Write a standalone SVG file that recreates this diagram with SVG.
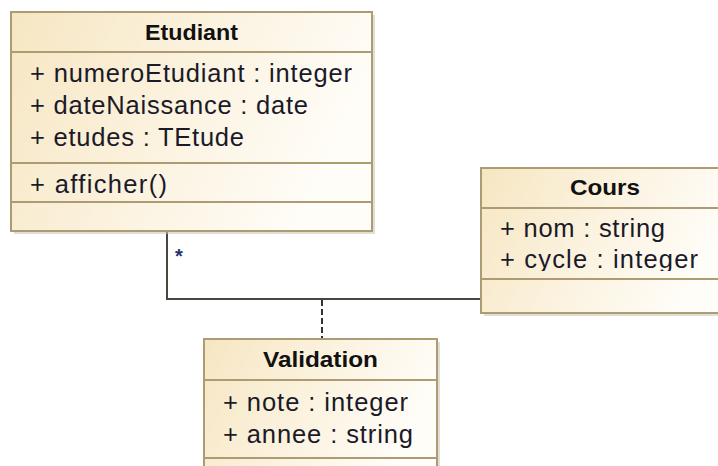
<svg xmlns="http://www.w3.org/2000/svg" width="718" height="466" viewBox="0 0 718 466">
  <defs>
    <linearGradient id="classFill" x1="0" y1="0" x2="1" y2="0.3">
      <stop offset="0" stop-color="#f6e6c2"/>
      <stop offset="0.6" stop-color="#fcf4e3"/>
      <stop offset="1" stop-color="#fffdf8"/>
    </linearGradient>
    <clipPath id="coursAttrClip">
      <rect x="481" y="208" width="250" height="63"/>
    </clipPath>
  </defs>
  <style>
    .shadow { fill: #c8c2b4; opacity: 0.55; }
    .box { fill: url(#classFill); stroke: #ad9b73; stroke-width: 2; }
    .sep { stroke: #ad9b73; stroke-width: 2; }
    .title { font-family: "Liberation Sans", Arial, sans-serif; font-weight: bold; font-size: 22px; fill: #111; text-anchor: middle; }
    .attr { font-family: "Liberation Sans", Arial, sans-serif; font-size: 25.5px; fill: #1a1a28; }
    .assoc { fill: none; stroke: #4a463e; stroke-width: 2; }
    .assocClass { fill: none; stroke: #333; stroke-width: 2; stroke-dasharray: 6 3; }
    .mult { font-family: "Liberation Sans", Arial, sans-serif; font-size: 20px; font-weight: bold; fill: #24306a; }
  </style>

  <!-- connectors -->
  <g id="connectors">
    <polyline class="assoc" points="167,232 167,299 481,299"/>
    <line class="assocClass" x1="322" y1="300" x2="322" y2="339"/>
    <text class="mult" x="175" y="263">*</text>
  </g>

  <!-- class Etudiant -->
  <g id="Etudiant">
    <rect class="shadow" x="14" y="15" width="361" height="219"/>
    <rect class="box" x="11" y="12" width="361" height="219"/>
    <line class="sep" x1="11" y1="52" x2="372" y2="52"/>
    <line class="sep" x1="11" y1="163" x2="372" y2="163"/>
    <line class="sep" x1="11" y1="202" x2="372" y2="202"/>
    <text class="title" x="191.5" y="40" textLength="93" lengthAdjust="spacingAndGlyphs">Etudiant</text>
    <text class="attr" x="30" y="82" textLength="322" lengthAdjust="spacing">+ numeroEtudiant : integer</text>
    <text class="attr" x="30" y="114" textLength="278" lengthAdjust="spacing">+ dateNaissance : date</text>
    <text class="attr" x="30" y="146" textLength="214" lengthAdjust="spacing">+ etudes : TEtude</text>
    <text class="attr" x="30" y="193" textLength="137" lengthAdjust="spacing">+ afficher()</text>
  </g>

  <!-- class Cours -->
  <g id="Cours">
    <rect class="shadow" x="484" y="171" width="248" height="145"/>
    <rect class="box" x="481" y="168" width="248" height="145"/>
    <line class="sep" x1="481" y1="208" x2="729" y2="208"/>
    <line class="sep" x1="481" y1="279" x2="729" y2="279"/>
    <text class="title" x="605" y="195" textLength="70" lengthAdjust="spacingAndGlyphs">Cours</text>
    <g clip-path="url(#coursAttrClip)">
      <text class="attr" x="500" y="237" textLength="165" lengthAdjust="spacing">+ nom : string</text>
      <text class="attr" x="500" y="268" textLength="198" lengthAdjust="spacing">+ cycle : integer</text>
    </g>
  </g>

  <!-- class Validation -->
  <g id="Validation">
    <rect class="shadow" x="207" y="342" width="233" height="140"/>
    <rect class="box" x="204" y="339" width="233" height="140"/>
    <line class="sep" x1="204" y1="380" x2="437" y2="380"/>
    <line class="sep" x1="204" y1="458" x2="437" y2="458"/>
    <text class="title" x="320.5" y="367" textLength="115" lengthAdjust="spacingAndGlyphs">Validation</text>
    <text class="attr" x="223" y="411" textLength="185" lengthAdjust="spacing">+ note : integer</text>
    <text class="attr" x="223" y="443" textLength="190" lengthAdjust="spacing">+ annee : string</text>
  </g>
</svg>
